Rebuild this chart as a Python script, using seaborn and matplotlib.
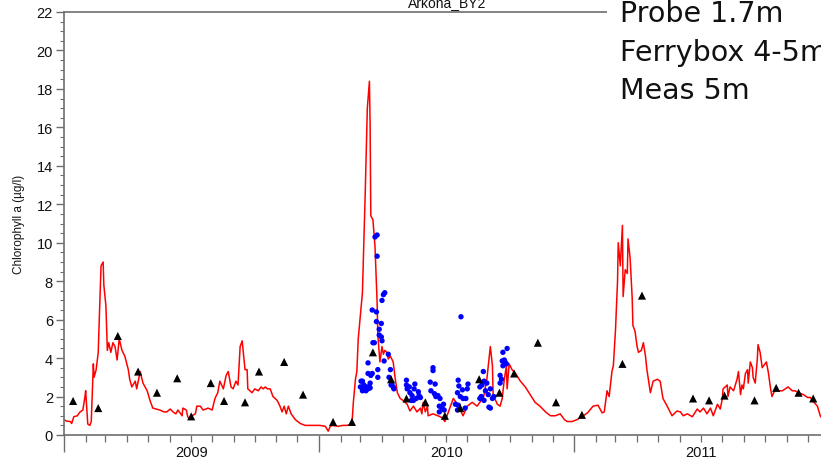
import numpy as np
import pandas as pd
import matplotlib
matplotlib.use("Agg")
import matplotlib.pyplot as plt
import matplotlib.dates as mdates
from matplotlib.ticker import MultipleLocator, NullFormatter
from matplotlib.patches import Rectangle
import seaborn as sns

# ---------------- data (days since 2009-01-01, chlorophyll a in µg/l) ----------------
start_date = "2009-01-01"

probe_day = [1, 4, 9, 11, 14, 19, 23, 27, 30, 31, 34, 37, 39, 42, 43, 46, 49, 50, 53, 56,
             57, 60, 62, 64, 67, 70, 73, 76, 79, 83, 87, 92, 94, 97, 102, 104, 109, 113, 119, 123,
             127, 132, 137, 143, 147, 152, 156, 160, 163, 169, 170, 175, 177, 180, 183, 188, 190, 195, 199, 203,
             206, 212, 216, 220, 223, 228, 232, 235, 239, 242, 246, 249, 252, 255, 256, 259, 262, 263, 269, 273,
             278, 282, 285, 288, 291, 295, 299, 305, 309, 312, 315, 318, 321, 325, 331, 338, 345, 352, 359, 366,
             374, 378, 381, 384, 392, 399, 405, 412, 414, 417, 419, 421, 427, 431, 434, 437, 438, 439, 442, 445,
             448, 449, 452, 455, 457, 459, 462, 464, 467, 471, 474, 477, 481, 485, 491, 495, 500, 505, 510, 512,
             514, 517, 520, 521, 528, 535, 541, 545, 550, 557, 563, 567, 571, 577, 584, 591, 595, 600, 605, 610,
             613, 614, 620, 624, 627, 630, 633, 634, 637, 641, 646, 653, 660, 667, 674, 681, 689, 696, 703, 710,
             716, 720, 727, 734, 743, 749, 757, 764, 770, 773, 777, 780, 784, 786, 789, 792, 793, 796, 799, 800,
             803, 806, 807, 810, 813, 814, 817, 820, 822, 826, 829, 832, 834, 839, 843, 849, 853, 857, 863, 870,
             877, 882, 886, 892, 899, 906, 910, 915, 920, 925, 929, 935, 939, 942, 943, 949, 950, 953, 958, 963,
             965, 968, 970, 972, 975, 978, 979, 982, 985, 986, 989, 992, 993, 996, 999, 1001, 1005, 1008, 1011, 1013,
             1018, 1022, 1028, 1032, 1036, 1042, 1046, 1051, 1058, 1064, 1068, 1072, 1078, 1082, 1086]
probe_chl = [0.78, 0.72, 0.7, 0.6, 0.95, 1.0, 1.2, 1.3, 2.0, 2.3, 0.57, 0.5, 0.7, 3.7, 3.0, 3.4, 4.3, 5.5, 8.8, 9.0,
             7.8, 6.7, 4.4, 4.8, 4.3, 4.8, 4.6, 3.9, 5.0, 4.4, 4.1, 3.4, 2.9, 2.5, 2.8, 2.4, 3.3, 2.7, 2.3, 1.8,
             1.4, 1.35, 1.3, 1.2, 1.2, 1.35, 1.2, 1.1, 1.3, 1.0, 1.4, 1.3, 0.95, 0.8, 1.0, 1.1, 1.5, 1.5, 1.3, 1.35,
             1.4, 1.3, 1.9, 2.2, 2.8, 2.4, 3.1, 3.3, 2.5, 2.4, 2.8, 2.6, 4.6, 4.9, 4.5, 3.4, 3.4, 2.4, 2.2, 2.4,
             2.3, 2.5, 2.4, 2.5, 2.4, 2.4, 2.0, 1.8, 1.5, 1.2, 1.5, 1.1, 1.5, 1.1, 0.8, 0.6, 0.5, 0.5, 0.5, 0.5,
             0.45, 0.2, 0.45, 0.5, 0.45, 0.5, 0.5, 0.57, 1.7, 2.9, 3.3, 5.0, 7.4, 12.6, 17.0, 18.4, 16.1, 11.4, 11.2, 9.8,
             6.9, 5.2, 3.8, 4.6, 4.2, 4.4, 4.3, 3.95, 4.1, 3.8, 2.9, 2.2, 1.9, 1.8, 1.6, 1.25, 1.5, 1.2, 1.4, 1.1,
             1.7, 1.2, 1.5, 1.0, 1.1, 1.0, 0.9, 0.7, 1.2, 1.9, 1.6, 1.3, 1.0, 1.5, 1.7, 1.5, 1.7, 1.9, 2.9, 4.6,
             3.6, 2.1, 1.6, 1.5, 1.9, 2.9, 3.6, 2.4, 3.7, 3.4, 3.2, 2.8, 2.5, 2.1, 1.7, 1.5, 1.2, 1.0, 1.0, 1.1,
             0.8, 0.7, 0.7, 0.8, 1.0, 1.15, 1.5, 1.55, 1.15, 1.2, 2.3, 2.0, 3.3, 3.6, 5.4, 8.0, 10.0, 8.8, 10.9, 7.2,
             8.6, 8.4, 10.2, 9.2, 7.1, 5.7, 5.4, 4.6, 4.3, 4.4, 4.8, 4.1, 3.4, 2.2, 2.8, 2.9, 2.8, 1.9, 1.5, 1.0,
             1.25, 1.2, 1.0, 1.1, 0.95, 1.35, 1.2, 1.4, 1.1, 1.4, 1.0, 1.6, 1.35, 1.9, 2.4, 2.6, 2.0, 2.5, 2.3, 2.9,
             3.3, 2.1, 2.6, 2.4, 3.2, 3.4, 2.7, 3.8, 3.5, 3.0, 2.7, 3.95, 4.7, 4.3, 3.5, 3.6, 3.8, 3.2, 2.4, 2.0,
             2.4, 2.3, 2.3, 2.4, 2.5, 2.3, 2.3, 2.2, 2.1, 1.95, 1.95, 1.75, 1.5, 1.0, 0.8]

ferry_day = [425, 424, 427, 428, 432, 434, 438, 435, 427, 429, 431, 435, 437,
             435, 438, 441, 439, 442, 444, 441, 447, 447, 451, 451, 454, 454, 455, 445, 448, 448, 455, 457, 459,
             449, 449, 458, 464, 467, 465, 469, 471, 468, 472,
             490, 491, 490, 495, 494, 498, 500, 502, 501, 507, 508, 504, 510, 497,
             528, 528, 524, 531, 525, 530, 532, 535, 538, 537, 541, 543, 544, 537,
             568, 564, 565, 570, 577, 578, 563, 567, 571, 575, 574, 564, 560, 563,
             595, 600, 601, 605, 598, 603, 610, 607, 597, 595, 601, 610, 608, 613, 615,
             624, 627, 628, 630, 631, 633, 634, 626, 624, 628]
ferry_chl = [2.8, 2.5, 2.3, 2.4, 2.3, 2.5, 2.45, 3.2, 2.8, 2.6, 2.5, 2.4, 2.5,
             3.75, 2.7, 3.2, 3.1, 4.8, 4.8, 6.5, 6.4, 5.9, 5.5, 5.2, 5.8, 5.1, 4.9, 10.3, 10.4, 9.3, 7.0, 7.3, 7.4,
             3.4, 3.0, 3.85, 4.2, 3.4, 3.0, 2.65, 2.5, 2.6, 2.4,
             2.85, 2.4, 2.6, 2.2, 2.5, 2.05, 1.8, 2.65, 2.4, 2.25, 2.05, 1.9, 1.95, 1.8,
             3.5, 3.35, 2.75, 2.65, 2.3, 2.15, 2.0, 2.05, 1.9, 1.5, 1.4, 1.6, 1.3, 1.2,
             6.15, 2.85, 2.55, 2.35, 2.4, 2.65, 2.2, 2.0, 1.9, 1.9, 1.4, 1.55, 1.6, 1.3,
             2.5, 3.3, 2.8, 2.7, 2.6, 2.3, 2.4, 2.1, 2.0, 1.9, 1.8, 1.4, 1.45, 1.9, 2.0,
             3.1, 3.85, 4.3, 3.9, 3.8, 3.7, 4.5, 2.9, 2.7, 3.6]

meas_day = [13, 49, 77, 106, 133, 162, 182, 210, 229, 259, 279, 315, 342, 385, 412, 442, 468, 490,
            517, 545, 567, 594, 623, 644, 678, 704, 741, 799, 827, 900, 923, 945, 988, 1019, 1051, 1072]
meas_chl = [1.77, 1.4, 5.15, 3.3, 2.2, 2.95, 0.97, 2.7, 1.77, 1.7, 3.3, 3.8, 2.1, 0.68, 0.68, 4.3, 2.9, 1.9,
            1.7, 1.0, 1.4, 2.9, 2.2, 3.2, 4.8, 1.7, 1.05, 3.7, 7.25, 1.9, 1.8, 2.05, 1.8, 2.45, 2.2, 1.9]

year_labels = ["2009", "2010", "2011"]
legend_lines = ["Probe 1.7m", "Ferrybox 4-5m", "Meas 5m"]
title = "Arkona_BY2"
ylabel = "Chlorophyll a (µg/l)"

# ---------------- frames ----------------
t0 = pd.Timestamp(start_date)
probe = pd.DataFrame({"date": t0 + pd.to_timedelta(probe_day, unit="D"), "chl": probe_chl})
ferry = pd.DataFrame({"date": t0 + pd.to_timedelta(ferry_day, unit="D"), "chl": ferry_chl})
meas = pd.DataFrame({"date": t0 + pd.to_timedelta(meas_day, unit="D"), "chl": meas_chl})

sns.set_theme(style="ticks")
plt.rcParams["font.family"] = ["Liberation Sans", "DejaVu Sans"]

W, H = 821, 460
fig = plt.figure(figsize=(W / 100, H / 100), dpi=100)
ax = fig.add_axes([64 / W, 24 / H, 766 / W, 423 / H])

sns.lineplot(data=probe, x="date", y="chl", color="#ff0000", lw=1.1, ax=ax, zorder=2)
sns.scatterplot(data=ferry, x="date", y="chl", color="#0000ff", s=15, edgecolor="none",
                linewidth=0, ax=ax, zorder=3)
sns.scatterplot(data=meas, x="date", y="chl", color="black", marker="^", s=34, edgecolor="none",
                linewidth=0, ax=ax, zorder=4)

ax.set_xlim(t0, t0 + pd.Timedelta(days=1096))
ax.set_ylim(0, 22)

ax.xaxis.set_major_locator(mdates.YearLocator())
ax.xaxis.set_major_formatter(NullFormatter())
ax.xaxis.set_minor_locator(mdates.MonthLocator())
ax.xaxis.set_minor_formatter(NullFormatter())
ax.yaxis.set_major_locator(MultipleLocator(2))
ax.yaxis.set_minor_locator(MultipleLocator(0.5))

spine_col = "#6e6e6e"
for sp in ax.spines.values():
    sp.set_color(spine_col)
    sp.set_linewidth(1.2)

ax.tick_params(axis="x", which="major", length=12, width=1.0, color=spine_col, direction="out", bottom=True)
ax.tick_params(axis="x", which="minor", length=5, width=0.9, color=spine_col, direction="out", bottom=True)
ax.tick_params(axis="y", which="major", length=6, width=1.0, color=spine_col, direction="out", left=True,
               labelsize=10.5, pad=2, labelcolor="#111111")
ax.tick_params(axis="y", which="minor", length=3, width=0.8, color=spine_col, direction="out", left=True)

for lab in year_labels:
    ax.text(pd.Timestamp(f"{lab}-07-02"), -17 / 423, lab, transform=ax.get_xaxis_transform(),
            ha="center", va="center", fontsize=10.5, color="#111111")

ax.set_xlabel("")
ax.set_ylabel(ylabel, fontsize=8.5, color="#111111")
ax.yaxis.set_label_coords(-0.051, 0.5)

ax.set_title(title, fontsize=10, pad=4.3, color="#111111")

# legend-like text block in a white box over the top-right corner
fig.add_artist(Rectangle((607 / W, 1 - 110 / H), 1 - 607 / W, 110 / H, transform=fig.transFigure,
                         facecolor="white", edgecolor="none", zorder=10))
baselines = [22, 61, 99]
for txt, yb in zip(legend_lines, baselines):
    fig.text(620 / W, 1 - yb / H, txt, fontsize=20.5, va="baseline", ha="left",
             color="#111111", family=["DejaVu Sans"], zorder=11)

fig.savefig("out.png", dpi=100)
